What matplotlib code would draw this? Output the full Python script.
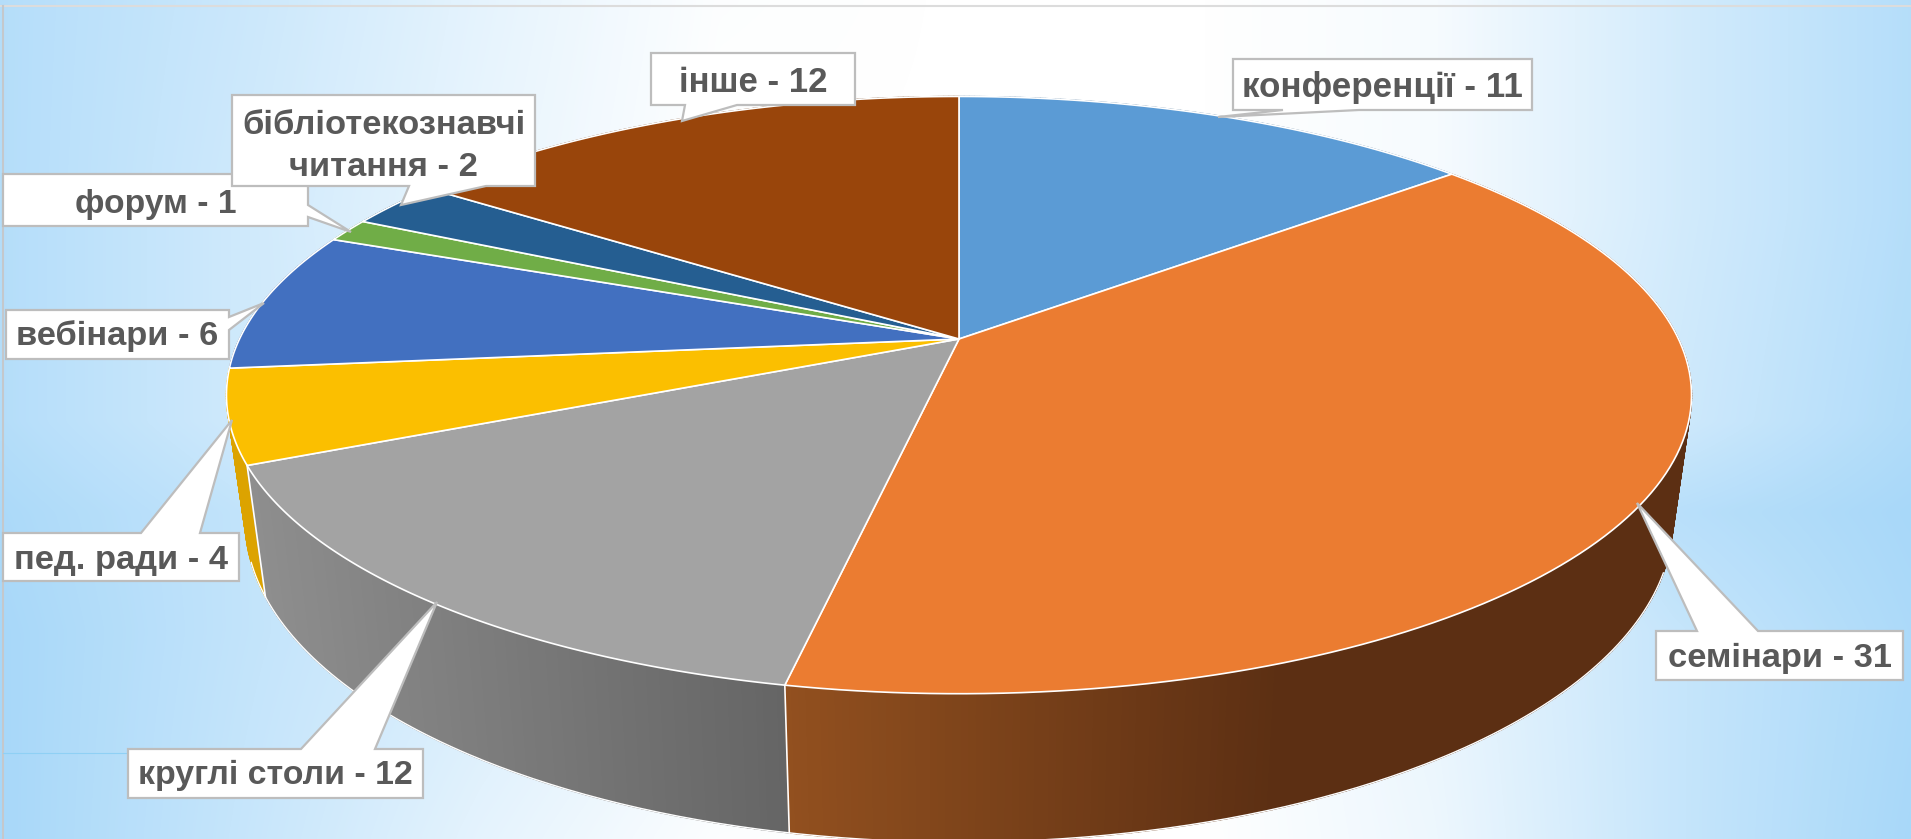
import numpy as np
import matplotlib
matplotlib.use('Agg')
import matplotlib.pyplot as plt
from matplotlib.patches import Polygon
from matplotlib.collections import PolyCollection
from matplotlib.colors import LinearSegmentedColormap, to_rgb

categories = ['конференції', 'семінари', 'круглі столи', 'пед. ради', 'вебінари', 'форум', 'бібліотекознавчі\nчитання', 'інше']
values = [11, 31, 12, 4, 6, 1, 2, 12]
colors = ['#5b9bd5', '#eb7c31', '#a3a3a3', '#fbbf00', '#4270c0', '#70ad47', '#255e91', '#99450b']
side_dark = ['#3d6a92', '#5c2f13', '#656565', '#dca300', '#2b4a80', '#4a7530', '#163a5a', '#602c07']
side_light = ['#3d6a92', '#92501f', '#8e8e8e', '#dca300', '#2b4a80', '#4a7530', '#163a5a', '#602c07']

# box x0,x1,y0,y1 then pointer tip and where the pointer leaves the box
boxes = [(1233, 1532, 59, 110), (1656, 1903, 631, 680), (128, 423, 749, 798), (3, 239, 533, 581),
         (6, 229, 310, 359), (3, 308, 174, 226), (232, 535, 95, 186), (651, 855, 53, 105)]
tips = [(1218, 117), (1637, 503), (437, 602), (232, 420), (264, 303), (351, 232), (401, 205), (682, 121)]
bases = [(1283, 1359), (1697, 1758), (301, 375), (141, 200), (317, 330), (205, 217), (409, 486), (685, 737)]
base_side = ['bottom', 'top', 'top', 'top', 'right', 'right', 'bottom', 'bottom']
font_sizes = [25.2, 24.8, 24.4, 24.8, 24.8, 24.2, 24.8, 25]
text_dy = [3, 3, 2, 3, 2, 4, 6, 3]

# background tint, 0 is white and 1 the full blue
bg_tint = [[.85, .60, .30, .03, 0, 0, .10, .50, .85],
           [.85, .55, .25, .00, 0, 0, .10, .50, .85],
           [.85, .55, .35, .10, 0, 0, .30, .55, .90],
           [.95, .70, .40, .15, 0, 0, .30, .80, 1.0],
           [1.0, .70, .45, .20, 0, 0, .25, .65, .95],
           [1.0, .65, .30, .03, 0, 0, .20, .65, 1.0]]

cx, cy = 959, 339
A, B, k = 719.5, 288.1, 0.1878
A2, B2, C2 = 701, 309.6, 121.9


def top_xy(a):
    x, y = np.sin(a), np.cos(a)
    return cx + A * x / (1 + k * y), cy - B * y / (1 + k * y)


def bottom_xy(a):
    x, y = np.sin(a), np.cos(a)
    return cx + A2 * x / (1 + k * y), cy + C2 - B2 * y / (1 + k * y)


fig = plt.figure(figsize=(19.11, 8.39), dpi=100)
ax = fig.add_axes([0, 0, 1, 1])
ax.axis('off')

cmap = LinearSegmentedColormap.from_list('bg', ['#ffffff', '#a8d8f9'])
rows = np.array([0, 210, 420, 510, 630, 839])
cols = np.linspace(0, 1911, 9)
gx = np.arange(0, 1911, 4)
gy = np.arange(0, 839, 4)
by_col = np.array([np.interp(gx, cols, r) for r in bg_tint])
grid = np.array([np.interp(gy, rows, by_col[:, i]) for i in range(len(gx))]).T
ax.imshow(grid, cmap=cmap, vmin=0, vmax=1, extent=(0, 1911, 839, 0), aspect='auto', interpolation='bicubic', zorder=0)
ax.set_xlim(0, 1911)
ax.set_ylim(839, 0)
ax.plot([0, 1911], [6, 6], color='#dcdcdc', lw=1.5, zorder=1)
ax.plot([3, 3], [6, 839], color='#c4c8cc', lw=1.5, zorder=1)
ax.plot([3, 128], [753, 753], color='#8fd0f5', lw=0.8, zorder=1)

edges = np.cumsum([0] + values) / sum(values) * 2 * np.pi

# side wall as many thin quads, coloured by x for the gradient
quads, quad_cols = [], []
for i in range(len(values)):
    n = max(int((edges[i + 1] - edges[i]) * 120), 4)
    a = np.linspace(edges[i], edges[i + 1], n + 1)
    tx, ty = top_xy(a)
    bx, by = bottom_xy(a)
    for j in range(n):
        quads.append([(tx[j], ty[j]), (tx[j + 1], ty[j + 1]), (bx[j + 1], by[j + 1]), (bx[j], by[j])])
        mid = (tx[j] + tx[j + 1]) / 2
        if i == 1:
            f = np.interp(mid, [786, 1280], [0, 1])
        elif i == 2:
            f = np.interp(mid, [250, 786], [0, 1])
        else:
            f = 0
        c0, c1 = np.array(to_rgb(side_light[i])), np.array(to_rgb(side_dark[i]))
        quad_cols.append(c0 + (c1 - c0) * f)
# back to front so the nearest quads end up on top
order = np.argsort([q[0][1] for q in quads])
ax.add_collection(PolyCollection([quads[o] for o in order], facecolors=[quad_cols[o] for o in order],
                                 edgecolors=[quad_cols[o] for o in order], linewidths=1.0, zorder=2))
# white rim and dividers on the wall
a_front = np.linspace(0.61 * np.pi, 1.40 * np.pi, 300)
bx, by = bottom_xy(a_front)
ax.plot(bx, by, color='white', lw=1, zorder=3)
for e in edges[2:4]:
    tx, ty = top_xy(e)
    bx, by = bottom_xy(e)
    ax.plot([tx, bx], [ty, by], color='white', lw=1.2, zorder=3)

# top face
for i in range(len(values)):
    a = np.linspace(edges[i], edges[i + 1], 120)
    tx, ty = top_xy(a)
    pts = np.column_stack([np.r_[cx, tx], np.r_[cy, ty]])
    ax.add_patch(Polygon(pts, closed=True, facecolor=colors[i], edgecolor='white', lw=1.2, joinstyle='round', zorder=4))

# callouts
for i in range(len(values)):
    x0, x1, y0, y1 = boxes[i]
    b0, b1 = bases[i]
    tip = tips[i]
    if base_side[i] == 'top':
        pts = [(x0, y0), (b0, y0), tip, (b1, y0), (x1, y0), (x1, y1), (x0, y1)]
    elif base_side[i] == 'bottom':
        pts = [(x0, y0), (x1, y0), (x1, y1), (b1, y1), tip, (b0, y1), (x0, y1)]
    else:
        pts = [(x0, y0), (x1, y0), (x1, b0), tip, (x1, b1), (x1, y1), (x0, y1)]
    ax.add_patch(Polygon(pts, closed=True, facecolor='white', edgecolor='#bdbdbd', lw=1.6, joinstyle='miter', zorder=5 + i))
    ax.text((x0 + x1) / 2, (y0 + y1) / 2 + text_dy[i], f'{categories[i]} - {values[i]}', ha='center', va='center',
            fontsize=font_sizes[i], fontweight='bold', family='Liberation Sans', color='#595959', linespacing=1.46, zorder=5 + i)

fig.savefig('out.png', dpi=100)
